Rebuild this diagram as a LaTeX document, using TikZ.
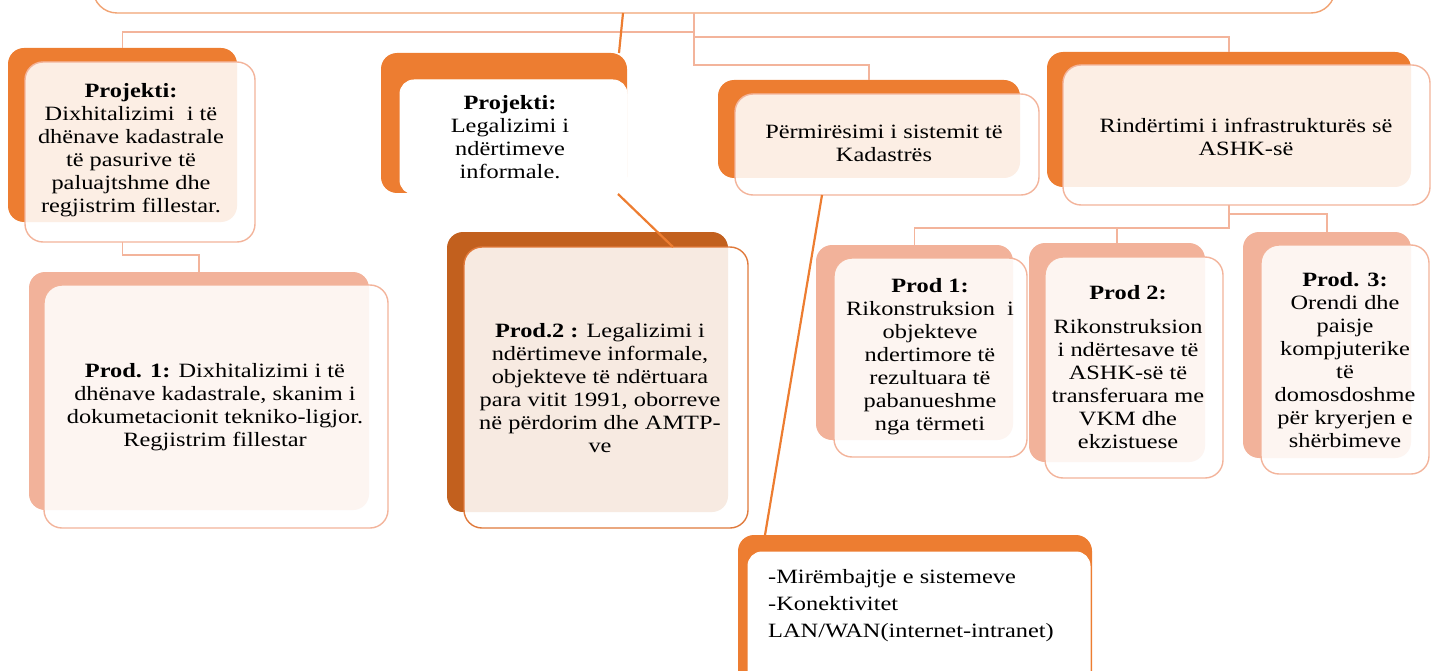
\documentclass[tikz,border=0pt]{standalone}
\usepackage{fontspec}
\setmainfont{Liberation Serif}[FakeStretch=1.2]
\definecolor{orangeA}{HTML}{ED7D31}
\definecolor{darkO}{HTML}{C2601E}
\definecolor{salmon}{HTML}{F2B29A}
\definecolor{lineS}{HTML}{F3B49B}
\definecolor{topB}{HTML}{F1A373}
\definecolor{p2border}{HTML}{E07A3C}
\begin{document}
\begin{tikzpicture}[x=1pt,y=-1pt,
  bx/.style={rectangle,inner sep=0pt,outer sep=0pt,anchor=north west},
  backO/.style={bx,fill=orangeA,rounded corners=16pt},
  backD/.style={bx,fill=darkO,rounded corners=16pt},
  backS/.style={bx,fill=salmon,rounded corners=16pt},
  front/.style={bx,fill=white,fill opacity=0.87,draw=lineS,line width=1.4pt,rounded corners=18pt},
  frontP/.style={front,draw=p2border},
  frontW/.style={bx,fill=white,draw=white,line width=1pt,rounded corners=14pt},
  txt/.style={inner sep=0pt,align=center,font=\fontsize{20.3}{23}\selectfont},
  lconn/.style={draw=lineS,line width=1.3pt},
  oconn/.style={draw=orangeA,line width=2.2pt}
]
\useasboundingbox (0,0) rectangle (1434,671);
% top box
\node[bx,fill=white,draw=topB,line width=1.4pt,rounded corners=24pt,minimum width=1242,minimum height=80] (top) at (93,-67) {};
% helper coordinates
\coordinate (jA) at (694,32);
\coordinate (jB) at (694,37);
\coordinate (jC) at (694,65);
\coordinate (k1) at (0,255);
\coordinate (k2) at (0,214);
\coordinate (k3) at (0,228);
\coordinate (o1) at (623,0);
\coordinate (o2) at (619,0);
\coordinate (o3) at (618,0);
\coordinate (o4) at (673,0);
\coordinate (o5) at (822,0);
\coordinate (o6) at (765,0);
% back boxes
\node[backO,minimum width=229,minimum height=174] (p1b) at (8,48) {};
\node[backS,minimum width=340,minimum height=238] (d1b) at (29,272) {};
\node[backO,minimum width=246,minimum height=140] (lgb) at (381,53) {};
\node[backD,minimum width=281,minimum height=280] (p2b) at (447,232) {};
\node[backO,minimum width=302,minimum height=98] (pmb) at (718,80) {};
\node[backO,minimum width=364,minimum height=135] (rib) at (1047,52) {};
\node[backS,minimum width=197,minimum height=195] (r1b) at (816,245) {};
\node[backS,minimum width=176,minimum height=219] (r2b) at (1029,243) {};
\node[backS,minimum width=168,minimum height=226] (r3b) at (1243,232) {};
\node[backO,minimum width=354,minimum height=160] (mbb) at (738,535) {};
% front boxes
\node[front,minimum width=230,minimum height=180] (p1f) at (25,62) {};
\node[front,minimum width=344,minimum height=243] (d1f) at (44,285) {};
\node[frontW,minimum width=227,minimum height=114] (lgf) at (400,80) {};
\node[frontP,minimum width=284,minimum height=281] (p2f) at (464,247) {};
\node[front,minimum width=304,minimum height=101] (pmf) at (735,94) {};
\node[front,minimum width=367,minimum height=140] (rif) at (1063,65) {};
\node[front,minimum width=193,minimum height=199] (r1f) at (834,258) {};
\node[front,minimum width=178,minimum height=221] (r2f) at (1045,257) {};
\node[front,minimum width=168,minimum height=229] (r3f) at (1261,245) {};
\node[frontW,minimum width=342,minimum height=140] (mbf) at (748,552) {};
% light connectors
\draw[lconn] (top.south -| jC) -- (jC) -- (jC -| pmb.north) -- (pmb.north);
\draw[lconn] (jA) -- (jA -| p1b.north) -- (p1b.north);
\draw[lconn] (jB) -- (jB -| rib.north) -- (rib.north);
\draw[lconn] (p1f.south -| p1b.north) -- (k1 -| p1b.north) -- (k1 -| d1b.north) -- (d1b.north);
\draw[lconn] (rif.south -| rib.north) -- (k3 -| rib.north) -- (k3 -| r1b.north) -- (r1b.north);
\draw[lconn] (k3 -| r2b.north) -- (r2b.north);
\draw[lconn] (k2 -| rib.north) -- (k2 -| r3b.north) -- (r3b.north);
% orange connectors
\draw[oconn] (top.south -| o1) -- (lgb.north -| o2);
\draw[oconn] (lgf.south -| o3) -- (p2f.north -| o4);
\draw[oconn] (pmf.south -| o5) -- (mbb.north -| o6);
% texts
\node[txt] (t1) at (131,150) {\textbf{Projekti:}\\Dixhitalizimi\ \ i të\\dhënave kadastrale\\të pasurive të\\paluajtshme dhe\\regjistrim fillestar.};
\node[txt] (t2) at (215,407) {\textbf{Prod. 1:} Dixhitalizimi i të\\dhënave kadastrale, skanim i\\dokumetacionit tekniko-ligjor.\\Regjistrim fillestar};
\node[txt] (t3) at (510,137) {\textbf{Projekti:}\\Legalizimi i\\ndërtimeve\\informale.};
\node[txt] (t4) at (600,388) {\textbf{Prod.2 :} Legalizimi i\\ndërtimeve informale,\\objekteve të ndërtuara\\para vitit 1991, oborreve\\në përdorim dhe AMTP-\\ve};
\node[txt] (t5) at (884,143) {Përmirësimi i sistemit të\\Kadastrës};
\node[txt] (t6) at (1246,137) {Rindërtimi i infrastrukturës së\\ASHK-së};
\node[txt] (t7) at (930,357) {\textbf{Prod 1:}\\Rikonstruksion\ \ i\\objekteve\\ndertimore të\\rezultuara të\\pabanueshme\\nga tërmeti};
\node[txt] (t8) at (1128,367) {\textbf{Prod 2:}\\[11pt]Rikonstruksion\\i ndërtesave të\\ASHK-së të\\transferuara me\\VKM dhe\\ekzistuese};
\node[txt] (t9) at (1345,360) {\textbf{Prod. 3:}\\Orendi dhe\\paisje\\kompjuterike\\të\\domosdoshme\\për kryerjen e\\shërbimeve};
\node[txt,align=left,anchor=west,font=\fontsize{20.3}{27}\selectfont] (t10) at (768,606) {-Mirëmbajtje e sistemeve\\-Konektivitet\\LAN/WAN(internet-intranet)};
\end{tikzpicture}
\end{document}
